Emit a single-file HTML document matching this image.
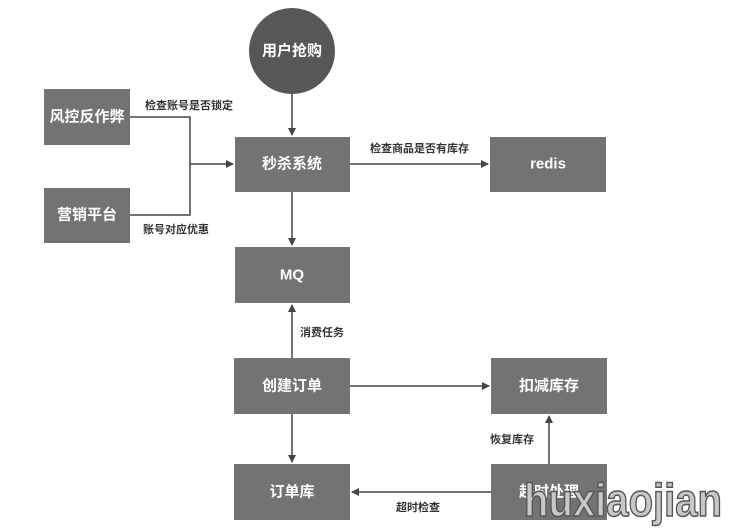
<!DOCTYPE html>
<html><head><meta charset="utf-8"><style>
body{margin:0;background:#fff;}
svg{display:block;font-family:"Liberation Sans","Noto Sans CJK SC",sans-serif;}
.b{fill:#737373;}
.t{fill:#fff;font-size:15px;font-weight:bold;text-anchor:middle;dominant-baseline:central;}
.l{fill:#333;font-size:11px;font-weight:bold;}
.c{stroke:#444;stroke-width:1.5;fill:none;}
</style></head><body>
<svg width="734" height="529" viewBox="0 0 734 529">
<defs><marker id="a" markerWidth="8" markerHeight="8" refX="7" refY="4" orient="auto" markerUnits="userSpaceOnUse"><path d="M0,0L8,4L0,8z" fill="#444"/></marker></defs>
<circle cx="292" cy="51" r="43" fill="#575757"/>
<text class="t" x="292" y="51">用户抢购</text>
<rect class="b" x="44" y="89" width="86" height="56"/><text class="t" x="87" y="117">风控反作弊</text>
<rect class="b" x="44" y="188" width="86" height="55"/><text class="t" x="87" y="215">营销平台</text>
<rect class="b" x="235" y="137" width="115" height="55"/><text class="t" x="292" y="164">秒杀系统</text>
<rect class="b" x="490" y="137" width="116" height="55"/><text class="t" x="548" y="164">redis</text>
<rect class="b" x="235" y="247" width="115" height="56"/><text class="t" x="292" y="275">MQ</text>
<rect class="b" x="234" y="358" width="116" height="56"/><text class="t" x="292" y="386">创建订单</text>
<rect class="b" x="491" y="358" width="116" height="56"/><text class="t" x="549" y="386">扣减库存</text>
<rect class="b" x="234" y="464" width="116" height="56"/><text class="t" x="292" y="492">订单库</text>
<rect class="b" x="491" y="464" width="116" height="56"/><text class="t" x="549" y="492">超时处理</text>
<path class="c" d="M130,117H190V215H130M190,164H233" marker-end="url(#a)"/>
<path class="c" d="M292,94V135" marker-end="url(#a)"/>
<path class="c" d="M350,164H488" marker-end="url(#a)"/>
<path class="c" d="M292,192V245" marker-end="url(#a)"/>
<path class="c" d="M292,358V305" marker-end="url(#a)"/>
<path class="c" d="M350,386H489" marker-end="url(#a)"/>
<path class="c" d="M292,414V462" marker-end="url(#a)"/>
<path class="c" d="M549,464V416" marker-end="url(#a)"/>
<path class="c" d="M491,492H352" marker-end="url(#a)"/>
<text class="l" x="145" y="109">检查账号是否锁定</text>
<text class="l" x="143" y="233">账号对应优惠</text>
<text class="l" x="370" y="152">检查商品是否有库存</text>
<text class="l" x="300" y="336">消费任务</text>
<text class="l" x="490" y="443">恢复库存</text>
<text class="l" x="396" y="511">超时检查</text>
<text x="524" y="516" font-size="46" font-weight="bold" fill="#c8c8c8" stroke="#555" stroke-width="1.5" textLength="198" lengthAdjust="spacingAndGlyphs" font-family="Liberation Sans, sans-serif">huxiaojian</text>
</svg>
</body></html>
